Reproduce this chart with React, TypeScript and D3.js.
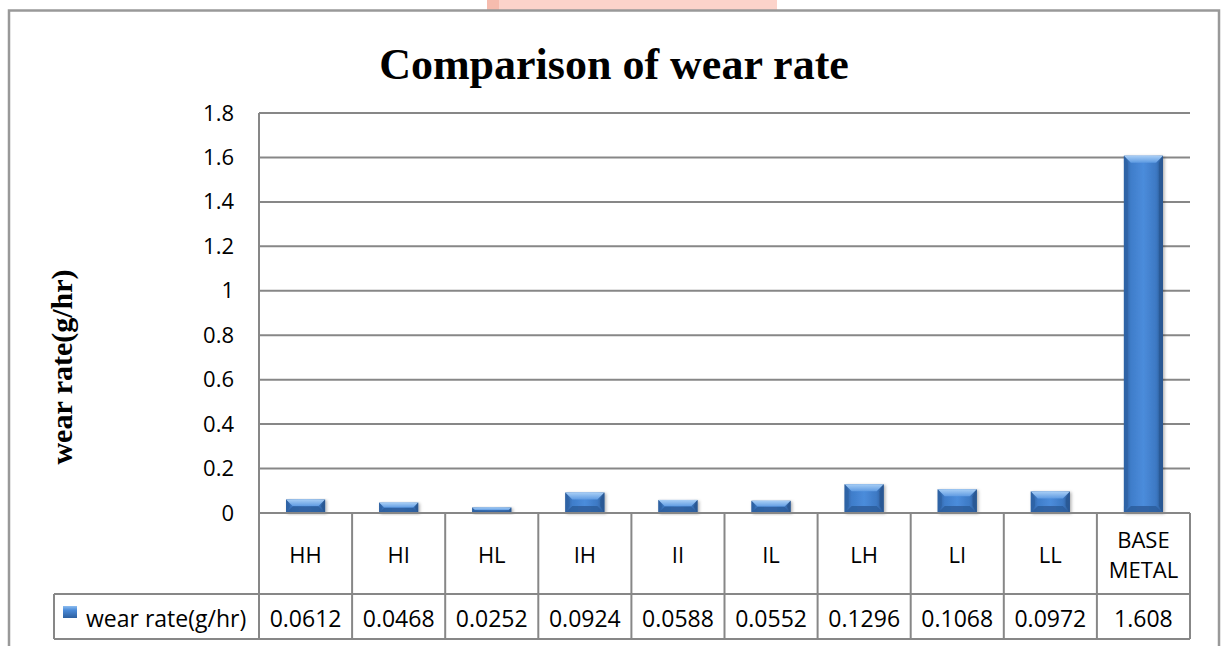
import React from "react";
import * as d3 from "d3";

// Wear-rate data per specimen
const categories = ["HH", "HI", "HL", "IH", "II", "IL", "LH", "LI", "LL", "BASE METAL"];
const wearRate = [0.0612, 0.0468, 0.0252, 0.0924, 0.0588, 0.0552, 0.1296, 0.1068, 0.0972, 1.608];
const valueLabels = ["0.0612", "0.0468", "0.0252", "0.0924", "0.0588", "0.0552", "0.1296", "0.1068", "0.0972", "1.608"];
const yTicks = [0, 0.2, 0.4, 0.6, 0.8, 1, 1.2, 1.4, 1.6, 1.8];
const yTickLabels = ["0", "0.2", "0.4", "0.6", "0.8", "1", "1.2", "1.4", "1.6", "1.8"];
const seriesName = "wear rate(g/hr)";
const titleText = "Comparison of wear rate";
const yAxisTitle = "wear rate(g/hr)";

const W = 1222;
const H = 646;
const plotLeft = 259;
const plotRight = 1190;
const plotTop = 113;
const plotBottom = 513;
const catRowBottom = 594;
const valRowBottom = 639;
const legendLeft = 54;

const gridColor = "#878787";
const sansFont = "'Open Sans', sans-serif";
const serifFont = "'Liberation Serif', 'Times New Roman', serif";

function BevelBar({ x0, x1, yTop, yBase }: { x0: number; x1: number; yTop: number; yBase: number }) {
  const w = x1 - x0;
  const h = yBase - yTop;
  const b = Math.max(1, Math.min(7, h / 2, w / 4));
  const pts = (arr: number[][]) => arr.map((p) => p.join(",")).join(" ");
  return (
    <g filter="url(#barShadow)">
      <rect x={x0} y={yTop} width={w} height={h} fill="url(#barBody)" />
      <polygon
        points={pts([[x0, yTop], [x1, yTop], [x1 - b, yTop + b], [x0 + b, yTop + b]])}
        fill="url(#barTop)"
      />
      <polygon
        points={pts([[x0, yBase], [x1, yBase], [x1 - b, yBase - b], [x0 + b, yBase - b]])}
        fill="#2d5f9f"
        opacity={0.9}
      />
      <polygon
        points={pts([[x0, yTop], [x0 + b * 0.6, yTop + b], [x0 + b * 0.6, yBase - b], [x0, yBase]])}
        fill="#2f64a6"
        opacity={0.85}
      />
      <polygon
        points={pts([[x1, yTop], [x1 - b * 0.6, yTop + b], [x1 - b * 0.6, yBase - b], [x1, yBase]])}
        fill="#2a5893"
        opacity={0.85}
      />
    </g>
  );
}

export default function App() {
  const x = d3.scaleBand<string>().domain(categories).range([plotLeft, plotRight]).paddingInner(0).paddingOuter(0);
  const y = d3.scaleLinear().domain([0, 1.8]).range([plotBottom, plotTop]);
  const bw = x.bandwidth();
  const barW = bw * 0.42;

  return (
    <svg
      width={W}
      height={H}
      style={{ position: "absolute", left: 0, top: 0, background: "#fff" }}
      xmlns="http://www.w3.org/2000/svg"
    >
      <defs>
        <linearGradient id="barBody" x1="0" y1="0" x2="1" y2="0">
          <stop offset="0" stopColor="#2c5c9a" />
          <stop offset="0.18" stopColor="#3f7dca" />
          <stop offset="0.5" stopColor="#4b8cdb" />
          <stop offset="0.82" stopColor="#3d79c4" />
          <stop offset="1" stopColor="#2a5790" />
        </linearGradient>
        <linearGradient id="barTop" x1="0" y1="0" x2="0" y2="1">
          <stop offset="0" stopColor="#a9cff6" />
          <stop offset="1" stopColor="#5f9be2" />
        </linearGradient>
        <linearGradient id="keyFill" x1="0" y1="0" x2="0" y2="1">
          <stop offset="0" stopColor="#8dbdf0" />
          <stop offset="0.35" stopColor="#4a8ad8" />
          <stop offset="1" stopColor="#2d5f9f" />
        </linearGradient>
        <filter id="barShadow" x="-30%" y="-10%" width="160%" height="130%">
          <feDropShadow dx="1.5" dy="1" stdDeviation="1.5" floodColor="#000" floodOpacity="0.3" />
        </filter>
      </defs>

      {/* pink band at the very top */}
      <rect x={487} y={0} width={290} height={10} fill="#fcd3ca" />
      <rect x={487} y={0} width={12} height={10} fill="#f6bcae" />

      {/* outer chart frame */}
      <rect x={9} y={10.5} width={1210} height={700} fill="none" stroke="#999" strokeWidth={2.5} />

      {/* title */}
      <text
        x={614}
        y={79}
        textAnchor="middle"
        fontFamily={serifFont}
        fontWeight="bold"
        fontSize={44}
        fill="#000"
      >
        {titleText}
      </text>

      {/* y-axis title */}
      <text
        transform={`translate(72,367) rotate(-90)`}
        textAnchor="middle"
        fontFamily={serifFont}
        fontWeight="bold"
        fontSize={30}
        fill="#000"
      >
        {yAxisTitle}
      </text>

      {/* gridlines and tick labels */}
      {yTicks.map((t, i) => (
        <g key={`t${i}`}>
          {t > 0 && (
            <line x1={plotLeft} x2={plotRight} y1={y(t)} y2={y(t)} stroke={gridColor} strokeWidth={2} />
          )}
          <text
            x={234}
            y={y(t) + 7.5}
            textAnchor="end"
            fontFamily={sansFont}
            fontSize={22}
            fill="#000"
          >
            {yTickLabels[i]}
          </text>
        </g>
      ))}

      {/* bars */}
      {categories.map((c, i) => {
        const cx = (x(c) as number) + bw / 2;
        return (
          <BevelBar
            key={`b${c}`}
            x0={cx - barW / 2}
            x1={cx + barW / 2}
            yTop={y(wearRate[i])}
            yBase={plotBottom}
          />
        );
      })}

      {/* axis line and data table grid */}
      <line x1={plotLeft} x2={plotLeft} y1={plotTop} y2={valRowBottom} stroke={gridColor} strokeWidth={2} />
      <line x1={plotLeft} x2={plotRight} y1={plotBottom} y2={plotBottom} stroke={gridColor} strokeWidth={2} />
      <line x1={legendLeft} x2={plotRight} y1={catRowBottom} y2={catRowBottom} stroke={gridColor} strokeWidth={2} />
      <line x1={legendLeft} x2={plotRight} y1={valRowBottom} y2={valRowBottom} stroke={gridColor} strokeWidth={2} />
      <line x1={legendLeft} x2={legendLeft} y1={catRowBottom} y2={valRowBottom} stroke={gridColor} strokeWidth={2} />
      {categories.map((c) => {
        const xr = (x(c) as number) + bw;
        return (
          <line key={`v${c}`} x1={xr} x2={xr} y1={plotBottom} y2={valRowBottom} stroke={gridColor} strokeWidth={2} />
        );
      })}

      {/* category labels */}
      {categories.map((c) => {
        const cx = (x(c) as number) + bw / 2;
        const words = c.split(" ");
        if (words.length > 1) {
          return (
            <text key={`c${c}`} textAnchor="middle" fontFamily={sansFont} fontSize={22} fill="#000">
              <tspan x={cx} y={548}>{words[0]}</tspan>
              <tspan x={cx} y={578}>{words[1]}</tspan>
            </text>
          );
        }
        return (
          <text key={`c${c}`} x={cx} y={563} textAnchor="middle" fontFamily={sansFont} fontSize={22} fill="#000">
            {c}
          </text>
        );
      })}

      {/* value row */}
      {categories.map((c, i) => {
        const cx = (x(c) as number) + bw / 2;
        return (
          <text key={`val${c}`} x={cx} y={627} textAnchor="middle" fontFamily={sansFont} fontSize={23} fill="#000">
            {valueLabels[i]}
          </text>
        );
      })}

      {/* legend key and series name */}
      <rect x={63} y={606} width={14} height={12} fill="url(#keyFill)" />
      <text x={86} y={627} fontFamily={sansFont} fontSize={23} fill="#000">
        {seriesName}
      </text>
    </svg>
  );
}
